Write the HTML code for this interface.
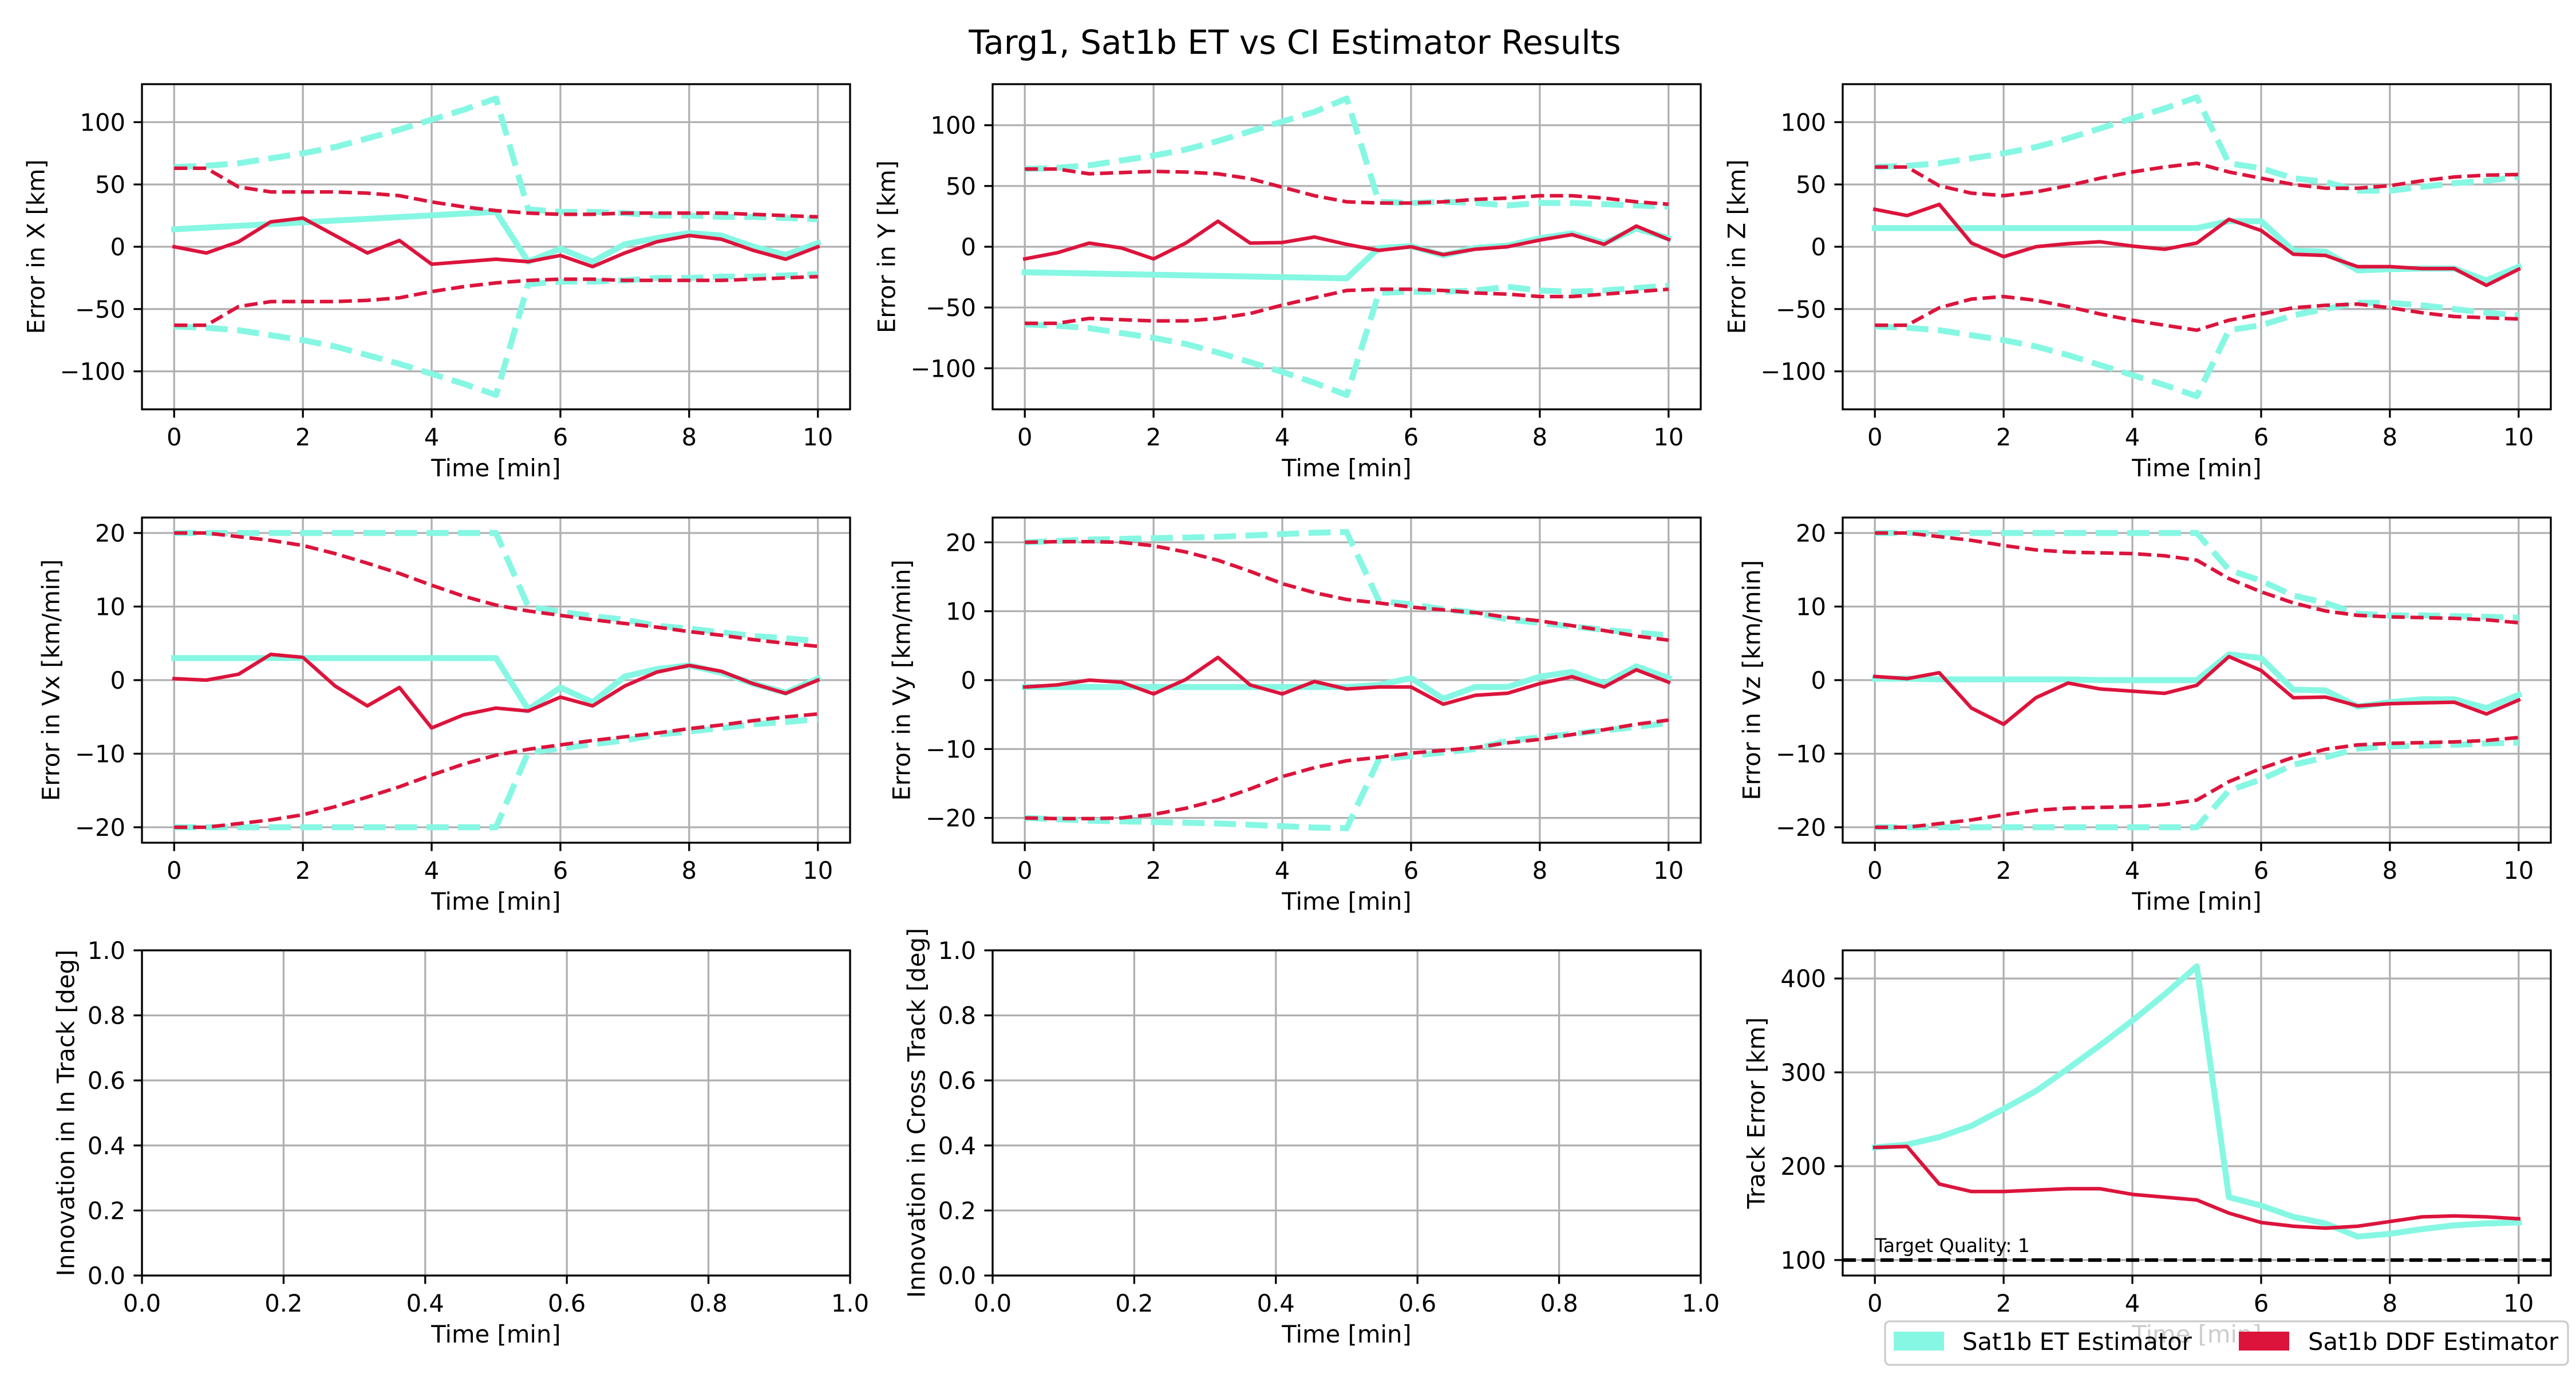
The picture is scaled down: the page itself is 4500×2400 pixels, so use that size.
<!DOCTYPE html>
<html><head><meta charset="utf-8"><style>
html,body{margin:0;padding:0;background:#fff;}
svg{display:block;font-family:"DejaVu Sans","Liberation Sans",sans-serif;}
</style></head><body>
<svg id="fig" xmlns="http://www.w3.org/2000/svg" width="4500" height="2400" viewBox="0 0 4500 2400">
<rect x="0" y="0" width="4500" height="2400" fill="#fff"/>
<text x="2262" y="94" font-size="58" text-anchor="middle">Targ1, Sat1b ET vs CI Estimator Results</text>
</svg>
<script>
const times = [0,0.5,1,1.5,2,2.5,3,3.5,4,4.5,5,5.5,6,6.5,7,7.5,8,8.5,9,9.5,10];
const xTicks = [0,2,4,6,8,10];

// Error in X
const xEtMean = [14,15.4,16.8,18.2,19.6,21,22.4,23.8,25.2,26.6,28,-12,-1.5,-12,2,7,11,9,0,-6.5,3];
const xEtUp = [64,65,67,71,75,80,87,94,102,110,119,30,28,28,27,25,25,24,24,23,22];
const xEtLo = [-64,-65,-67,-71,-75,-80,-87,-94,-102,-110,-119,-30,-28,-28,-27,-25,-25,-24,-24,-23,-22];
const xDdfMean = [0,-5,4,20,23,9,-5,5,-14,-12,-10,-12,-7,-16,-5,4,9,6,-3,-10,0];
const xDdfUp = [63,63,48,44,44,44,43,41,36,32,29,27,26,26,27,27,27,27,26,25,24];
const xDdfLo = [-63,-63,-48,-44,-44,-44,-43,-41,-36,-32,-29,-27,-26,-26,-27,-27,-27,-27,-26,-25,-24];

// Error in Y
const yEtMean = [-21,-21.5,-22,-22.5,-23,-23.5,-24,-24.5,-25,-25.5,-26,-1,0.5,-7,-1,1,7,11,3,15,7];
const yEtUp = [64,65,67,71,75,80,87,95,103,111,122,37,36,37,36,34,36,36,35,34,33];
const yEtLo = [-64,-65,-67,-71,-75,-80,-87,-95,-103,-112,-122,-38,-37,-37,-36,-33,-36,-37,-36,-34,-32];
const yDdfMean = [-10,-5,3,-1,-10,3,21,3,3.5,8,2,-3,0,-6.5,-2,0,5.5,10,2,17,6];
const yDdfUp = [64,64,60,61,62,61.5,60,56,49,42,37,36,36,37,39,40,42,42,40,37,35];
const yDdfLo = [-63,-63,-59,-60,-61,-61,-59,-55,-48,-42,-36,-35,-35,-36,-38,-39,-41,-41,-39,-37,-35];

// Error in Z
const zEtMean = [15,15,15,15,15,15,15,15,15,15,15,20.5,20.5,-3,-4,-19,-18,-17.5,-17.5,-27,-16];
const zEtUp = [64,65,67,71,75,80,87,95,103,111,120,67,63,55,52,45,45,48,51,53,56];
const zEtLo = [-64,-65,-67,-71,-75,-80,-87,-95,-103,-111,-120,-67,-63,-55,-50,-45,-45,-47,-50,-53,-55];
const zDdfMean = [30,25,34,3,-8,0,2.5,4,0.5,-2,3,22,13,-6,-7,-16,-16,-17.5,-17.5,-31,-18];
const zDdfUp = [64,64,49,43,41,44,49,55,60,64,67,60,55,50,47,47,49,53,56,57.5,58];
const zDdfLo = [-63,-63,-49,-42,-40,-43,-48,-54,-59,-63,-67,-59,-54,-49,-47,-46,-49,-53,-56,-57,-58];

// Error in Vx
const vxEtMean = [3,3,3,3,3,3,3,3,3,3,3,-4,-1,-3,0.5,1.5,2,1,-0.5,-1.7,0.2];
const vxEtUp = [20,20,20,20,20,20,20,20,20,20,20,10,9.3,8.7,8.2,7.4,7,6.5,6,5.7,5.3];
const vxEtLo = [-20,-20,-20,-20,-20,-20,-20,-20,-20,-20,-20,-9.8,-9.3,-8.7,-8.2,-7.4,-7,-6.5,-6,-5.7,-5.3];
const vxDdfMean = [0.2,0,0.8,3.5,3.1,-0.8,-3.5,-1,-6.5,-4.7,-3.8,-4.2,-2.3,-3.5,-0.8,1.1,2,1.2,-0.5,-1.8,0];
const vxDdfUp = [20,20,19.5,19,18.3,17.2,15.9,14.5,12.9,11.4,10.2,9.4,8.8,8.2,7.7,7.2,6.6,6.1,5.5,5,4.6];
const vxDdfLo = [-20,-20,-19.5,-19,-18.3,-17.2,-15.9,-14.5,-12.9,-11.4,-10.2,-9.4,-8.8,-8.2,-7.7,-7.2,-6.6,-6.1,-5.5,-5,-4.6];

// Error in Vy
const vyEtMean = [-1,-1,-1,-1,-1,-1,-1,-1,-1,-1,-1,-0.7,0.3,-2.7,-1,-1,0.5,1.2,-0.5,2,0.3];
const vyEtUp = [20,20.2,20.4,20.5,20.6,20.7,20.8,21,21.2,21.4,21.5,11.5,11,10.3,9.8,8.8,8.3,7.8,7.3,6.9,6.5];
const vyEtLo = [-20,-20.2,-20.4,-20.5,-20.6,-20.7,-20.8,-21,-21.2,-21.4,-21.5,-11.5,-11,-10.5,-10,-8.8,-8.3,-7.8,-7.3,-6.8,-6.2];
const vyDdfMean = [-1,-0.7,0,-0.3,-2,0.1,3.3,-0.7,-2,-0.2,-1.3,-1,-1,-3.5,-2.2,-1.9,-0.5,0.5,-1,1.5,-0.3];
const vyDdfUp = [20,20.1,20.1,20,19.5,18.6,17.4,15.8,14,12.7,11.7,11.2,10.6,10.2,9.8,9.1,8.6,7.9,7.2,6.4,5.8];
const vyDdfLo = [-20,-20.1,-20.1,-20,-19.5,-18.6,-17.4,-15.8,-14,-12.7,-11.7,-11.2,-10.6,-10.2,-9.8,-9.1,-8.6,-7.9,-7.2,-6.4,-5.8];

// Error in Vz
const vzEtMean = [0.2,0.2,0.1,0.1,0.1,0.1,0.1,0,0,0,0,3.5,3,-1.3,-1.4,-3.6,-3,-2.6,-2.6,-3.8,-2];
const vzEtUp = [20,20,20,20,20,20,20,20,20,20,20,15,13.5,11.5,10.5,9,8.8,8.8,8.7,8.6,8.5];
const vzEtLo = [-20,-20,-20,-20,-20,-20,-20,-20,-20,-20,-20,-15,-13.5,-11.5,-10.5,-9.3,-9,-8.9,-8.8,-8.6,-8.5];
const vzDdfMean = [0.5,0.2,1,-3.8,-6,-2.4,-0.4,-1.2,-1.5,-1.8,-0.7,3.2,1.3,-2.4,-2.3,-3.5,-3.2,-3.1,-3,-4.6,-2.7];
const vzDdfUp = [20,20,19.5,19,18.3,17.7,17.4,17.3,17.2,16.9,16.3,13.8,12,10.5,9.4,8.8,8.6,8.5,8.4,8.2,7.8];
const vzDdfLo = [-20,-20,-19.5,-19,-18.3,-17.7,-17.4,-17.3,-17.2,-16.9,-16.3,-13.8,-12,-10.5,-9.4,-8.8,-8.6,-8.5,-8.4,-8.2,-7.8];

// Track error
const trkEt = [220,223,231,243,261,280,304,329,355,383,413,167,158,146,139,125,128,133,137,139,140];
const trkDdf = [220,221,181,173,173,174.5,176,176,170,167,164,150,140,136,134,136,141,146,147,146,144];
const targetQuality = [100];

const ET_COLOR = "#86f7e3", DDF_COLOR = "#dc143c";
const NS = "http://www.w3.org/2000/svg";
const svg = document.getElementById('fig');

function mk(tag, attrs, parent){
  const e = document.createElementNS(NS, tag);
  for (const k in attrs) e.setAttribute(k, attrs[k]);
  (parent||svg).appendChild(e);
  return e;
}
function fmt(v){ return (v<0?"\u2212":"") + String(Math.abs(v)); }

let clipId = 0;
function panel(cfg){
  const {x0,y0,w,h,xmin,xmax,ymin,ymax,yticks,xticks,ylabel,ylabOff,name} = cfg;
  const g = mk('g', {});
  
  
  const sx = v => x0 + (v - xmin)/(xmax - xmin)*w;
  const sy = v => y0 + h - (v - ymin)/(ymax - ymin)*h;
  xticks.forEach(t=>{
    const l = mk('line',{x1:sx(t),x2:sx(t),y1:y0,y2:y0+h,stroke:'#b0b0b0','stroke-width':3.3},g);
    
    
  });
  yticks.forEach(t=>{
    const l = mk('line',{x1:x0,x2:x0+w,y1:sy(t),y2:sy(t),stroke:'#b0b0b0','stroke-width':3.3},g);
    
    
  });
  const id = 'c'+(clipId++);
  const cp = mk('clipPath',{id:id},g);
  mk('rect',{x:x0,y:y0,width:w,height:h},cp);
  const plot = mk('g',{'clip-path':'url(#'+id+')'},g);
  (cfg.series||[]).forEach(s=>{
    const pts = s.vals.map((v,i)=>sx(times[i]).toFixed(1)+','+sy(v).toFixed(1)).join(' ');
    const a = {points:pts,fill:'none',stroke:s.color,'stroke-width':s.lw,'stroke-linejoin':'round'};
    if (s.dash) { a['stroke-dasharray']=s.dash; a['stroke-linecap']='butt'; } else a['stroke-linecap']='square';
    const p = mk('polyline',a,plot);
    
    
  });
  if (cfg.extra) cfg.extra(plot, sx, sy);
  const sp = mk('rect',{x:x0,y:y0,width:w,height:h,fill:'none',stroke:'#000','stroke-width':3.3},g);
  
  
  xticks.forEach(t=>{
    mk('line',{x1:sx(t),x2:sx(t),y1:y0+h,y2:y0+h+14.6,stroke:'#000','stroke-width':3.3},g);
    const tx = mk('text',{x:sx(t),y:y0+h+63,'font-size':41.7,'text-anchor':'middle'},g);
    tx.textContent = cfg.xfmt ? cfg.xfmt(t) : fmt(t);
    
    
  });
  yticks.forEach(t=>{
    mk('line',{x1:x0-14.6,x2:x0,y1:sy(t),y2:sy(t),stroke:'#000','stroke-width':3.3},g);
    const tx = mk('text',{x:x0-29,y:sy(t)+15,'font-size':41.7,'text-anchor':'end'},g);
    tx.textContent = cfg.yfmt ? cfg.yfmt(t) : fmt(t);
    
    
  });
  const xl = mk('text',{x:x0+w/2,y:y0+h+117,'font-size':41.7,'text-anchor':'middle'},g);
  xl.textContent = 'Time [min]';
  
  
  const yx = x0 - ylabOff, yy = y0 + h/2;
  const yl = mk('text',{x:yx,y:yy,'font-size':41.7,'text-anchor':'middle','dominant-baseline':'central',transform:'rotate(-90 '+yx+' '+yy+')'},g);
  yl.textContent = ylabel;
  
  
}

function estSeries(em,eu,el,dm,du,dl){
  return [
    {vals:eu,color:ET_COLOR,lw:10.4,dash:'38.5 16.6',name:'et-upper-bound'},
    {vals:el,color:ET_COLOR,lw:10.4,dash:'38.5 16.6',name:'et-lower-bound'},
    {vals:em,color:ET_COLOR,lw:10.4,name:'et-error'},
    {vals:du,color:DDF_COLOR,lw:6.25,dash:'23 10',name:'ddf-upper-bound'},
    {vals:dl,color:DDF_COLOR,lw:6.25,dash:'23 10',name:'ddf-lower-bound'},
    {vals:dm,color:DDF_COLOR,lw:6.25,name:'ddf-error'}
  ];
}

const colX = [248,1734,3219], W = 1237, H = 568;
const rowY = [147,904,1660];
const XMIN=-0.5, XMAX=10.5;

panel({name:'panel-x-error',x0:colX[0],y0:rowY[0],w:W,h:H,xmin:XMIN,xmax:XMAX,ymin:-130.5,ymax:130.5,yticks:[-100,-50,0,50,100],xticks:xTicks,ylabel:'Error in X [km]',ylabOff:185,series:estSeries(xEtMean,xEtUp,xEtLo,xDdfMean,xDdfUp,xDdfLo)});
panel({name:'panel-y-error',x0:colX[1],y0:rowY[0],w:W,h:H,xmin:XMIN,xmax:XMAX,ymin:-133.8,ymax:133.8,yticks:[-100,-50,0,50,100],xticks:xTicks,ylabel:'Error in Y [km]',ylabOff:185,series:estSeries(yEtMean,yEtUp,yEtLo,yDdfMean,yDdfUp,yDdfLo)});
panel({name:'panel-z-error',x0:colX[2],y0:rowY[0],w:W,h:H,xmin:XMIN,xmax:XMAX,ymin:-130.5,ymax:130.5,yticks:[-100,-50,0,50,100],xticks:xTicks,ylabel:'Error in Z [km]',ylabOff:185,series:estSeries(zEtMean,zEtUp,zEtLo,zDdfMean,zDdfUp,zDdfLo)});

panel({name:'panel-vx-error',x0:colX[0],y0:rowY[1],w:W,h:H,xmin:XMIN,xmax:XMAX,ymin:-22.1,ymax:22.1,yticks:[-20,-10,0,10,20],xticks:xTicks,ylabel:'Error in Vx [km/min]',ylabOff:159,series:estSeries(vxEtMean,vxEtUp,vxEtLo,vxDdfMean,vxDdfUp,vxDdfLo)});
panel({name:'panel-vy-error',x0:colX[1],y0:rowY[1],w:W,h:H,xmin:XMIN,xmax:XMAX,ymin:-23.6,ymax:23.6,yticks:[-20,-10,0,10,20],xticks:xTicks,ylabel:'Error in Vy [km/min]',ylabOff:159,series:estSeries(vyEtMean,vyEtUp,vyEtLo,vyDdfMean,vyDdfUp,vyDdfLo)});
panel({name:'panel-vz-error',x0:colX[2],y0:rowY[1],w:W,h:H,xmin:XMIN,xmax:XMAX,ymin:-22.1,ymax:22.1,yticks:[-20,-10,0,10,20],xticks:xTicks,ylabel:'Error in Vz [km/min]',ylabOff:159,series:estSeries(vzEtMean,vzEtUp,vzEtLo,vzDdfMean,vzDdfUp,vzDdfLo)});

const unitTicks = [0,0.2,0.4,0.6,0.8,1.0];
const f1 = v => v.toFixed(1);
panel({name:'panel-in-track-innovation',x0:colX[0],y0:rowY[2],w:W,h:H,xmin:0,xmax:1,ymin:0,ymax:1,yticks:unitTicks,xticks:unitTicks,xfmt:f1,yfmt:f1,ylabel:'Innovation in In Track [deg]',ylabOff:133,series:[]});
panel({name:'panel-cross-track-innovation',x0:colX[1],y0:rowY[2],w:W,h:H,xmin:0,xmax:1,ymin:0,ymax:1,yticks:unitTicks,xticks:unitTicks,xfmt:f1,yfmt:f1,ylabel:'Innovation in Cross Track [deg]',ylabOff:133,series:[]});

panel({name:'panel-track-error',x0:colX[2],y0:rowY[2],w:W,h:H,xmin:XMIN,xmax:XMAX,ymin:83.5,ymax:430,yticks:[100,200,300,400],xticks:xTicks,ylabel:'Track Error [km]',ylabOff:151,
  series:[
    {vals:trkEt,color:ET_COLOR,lw:10.4,name:'et-track-error'},
    {vals:trkDdf,color:DDF_COLOR,lw:6.25,name:'ddf-track-error'}
  ],
  extra:(plot,sx,sy)=>{
    const l = mk('line',{x1:sx(XMIN),x2:sx(XMAX),y1:sy(targetQuality[0]),y2:sy(targetQuality[0]),stroke:'#000','stroke-width':6.25,'stroke-dasharray':'23 10'},plot);
    
    
    const t = mk('text',{x:sx(0),y:sy(targetQuality[0])-14,'font-size':33},plot);
    t.textContent = 'Target Quality: 1';
    
    
  }
});

const lg = mk('g',{});


mk('rect',{x:3293,y:2308,width:1193,height:76,rx:8,fill:'#fff','fill-opacity':0.8,stroke:'#cccccc','stroke-width':3.3},lg);
const p1 = mk('rect',{x:3308,y:2326,width:88,height:33,fill:ET_COLOR},lg);


const t1 = mk('text',{x:3428,y:2358,'font-size':41.7},lg);
t1.textContent = 'Sat1b ET Estimator';


const p2 = mk('rect',{x:3911,y:2326,width:88,height:33,fill:DDF_COLOR},lg);


const t2 = mk('text',{x:4032,y:2358,'font-size':41.7},lg);
t2.textContent = 'Sat1b DDF Estimator';


</script>
</body></html>
